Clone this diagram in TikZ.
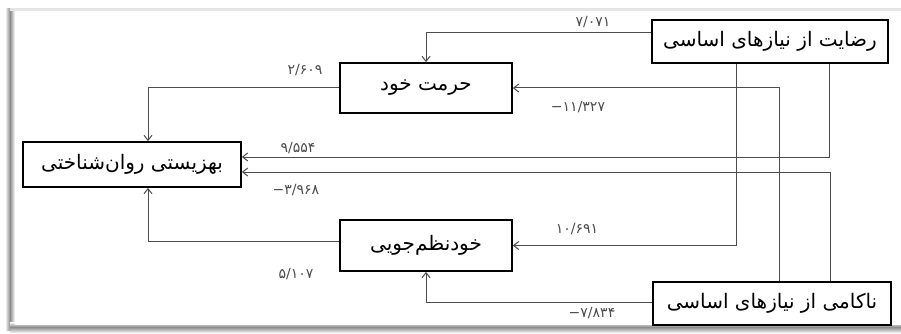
\documentclass[tikz,border=0pt]{standalone}
\usepackage{fontspec}
\newfontfamily\arabicfont[Script=Arabic]{DejaVu Sans}
\newfontfamily\numfont{DejaVu Sans}
\TeXXeTstate=1
\usetikzlibrary{arrows.meta}
\begin{document}
\begin{tikzpicture}[x=1pt,y=-1pt,
  box/.style={draw=black,line width=1.8pt,minimum height=#1,inner sep=0pt,font=\arabicfont\fontsize{20}{22}\selectfont},
  conn/.style={draw=black!70,line width=1pt,-{Straight Barb[length=5pt,width=8pt]}},
  num/.style={font=\numfont\fontsize{14}{15}\selectfont,text=black!70,inner sep=0pt}]
\useasboundingbox (0,0) rectangle (901,334);
% frame
\shade[left color=white,right color=black!45] (5,9) rectangle (10,330);
\shade[left color=black!45,right color=white] (10,9) rectangle (15,330);
\fill[black!10] (10,8) rectangle (901,11);
\shade[top color=white,bottom color=black!45] (10,322) rectangle (901,327);
\shade[top color=black!45,bottom color=white!90!black] (10,327) rectangle (901,332);
\fill[white] (15,11) rectangle (901,325);
% nodes
\node[box=43pt,minimum width=236pt] (sat) at (770,41.5) {\beginR رضایت از نیازهای اساسی\endR};
\node[box=50pt,minimum width=172pt] (est) at (426,88) {\beginR حرمت خود\endR};
\node[box=45pt,minimum width=218pt] (wb) at (132,164.5) {\beginR بهزیستی روان^^^^200cشناختی\endR};
\node[box=51pt,minimum width=172pt] (reg) at (426,245.5) {\beginR خودنظم^^^^200cجویی\endR};
\node[box=43pt,minimum width=238pt] (fru) at (772,303.5) {\beginR ناکامی از نیازهای اساسی\endR};
% connectors
\draw[conn] (sat.west |- 0,33) -| (est.north);
\draw[conn] (est.west) -| (148,0 |- wb.north);
\draw[conn] (829,0 |- sat.south) |- (wb.east |- 0,157);
\draw[conn] (830,0 |- fru.north) |- (wb.east |- 0,172);
\draw[conn] (736,0 |- sat.south) |- (reg.east);
\draw[conn] (779,0 |- fru.north) |- (est.east);
\draw[conn] (fru.west |- 0,302) -| (reg.south);
\draw[conn] (reg.west |- 0,241) -| (148,0 |- wb.south);
% labels
\node[num] (l1) at (593,22) {۷/۰۷۱};
\node[num] (l2) at (305,70) {۲/۶۰۹};
\node[num] (l3) at (298,148) {۹/۵۵۴};
\node[num] (l4) at (296,190) {−۳/۹۶۸};
\node[num] (l5) at (578,107) {−۱۱/۳۲۷};
\node[num] (l6) at (577,229) {۱۰/۶۹۱};
\node[num] (l7) at (296,274) {۵/۱۰۷};
\node[num] (l8) at (592,313) {−۷/۸۳۴};
\end{tikzpicture}
\end{document}
